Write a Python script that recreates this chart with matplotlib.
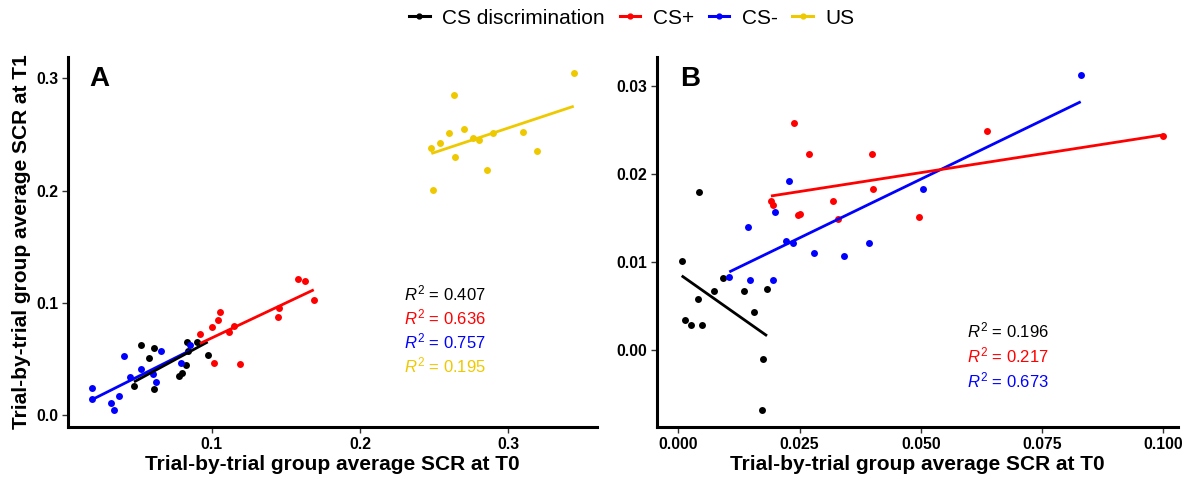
import numpy as np
import matplotlib
matplotlib.use("Agg")
import matplotlib.pyplot as plt
from matplotlib.lines import Line2D

plt.rcParams['font.family'] = ['Liberation Sans', 'DejaVu Sans']
plt.rcParams['mathtext.fontset'] = 'custom'
plt.rcParams['mathtext.rm'] = 'Liberation Sans'
plt.rcParams['mathtext.it'] = 'Liberation Sans:italic'

# ---------------- Data: panel A ----------------
a_disc_x = [0.0525, 0.0608, 0.0574, 0.0831, 0.0903, 0.0842, 0.0973, 0.0825, 0.0803, 0.0781, 0.0476, 0.0614]
a_disc_y = [0.0623, 0.0603, 0.0510, 0.0654, 0.0648, 0.0574, 0.0534, 0.0450, 0.0374, 0.0347, 0.0261, 0.0234]
# fitted line of CS discrimination (some points are hidden)
a_disc_fit_x = [0.0476, 0.0973]
a_disc_fit_y = [0.0297, 0.0653]
a_plus_x = [0.0921, 0.1004, 0.1042, 0.1058, 0.1118, 0.1150, 0.1013, 0.1189, 0.1449, 0.1456, 0.1582, 0.1631, 0.1688]
a_plus_y = [0.0721, 0.0786, 0.0849, 0.0920, 0.0739, 0.0799, 0.0461, 0.0456, 0.0873, 0.0959, 0.1217, 0.1199, 0.1024]
a_minus_x = [0.0191, 0.0195, 0.0318, 0.0339, 0.0373, 0.0409, 0.0447, 0.0521, 0.0601, 0.0624, 0.0660, 0.0796, 0.0855]
a_minus_y = [0.0243, 0.0149, 0.0109, 0.0049, 0.0175, 0.0528, 0.0341, 0.0412, 0.0372, 0.0297, 0.0570, 0.0469, 0.0626]
a_us_x = [0.3441, 0.2634, 0.2703, 0.2598, 0.2539, 0.2481, 0.2764, 0.2802, 0.2899, 0.3101, 0.2641, 0.3194, 0.2854, 0.2492]
a_us_y = [0.3043, 0.2852, 0.2547, 0.2511, 0.2425, 0.2380, 0.2467, 0.2446, 0.2514, 0.2520, 0.2297, 0.2348, 0.2184, 0.2006]
a_r2 = ["0.407", "0.636", "0.757", "0.195"]

# ---------------- Data: panel B ----------------
b_disc_x = [0.00428, 0.00072, 0.00916, 0.00731, 0.00408, 0.00140, 0.00264, 0.00497, 0.01350, 0.01830, 0.01562, 0.01741, 0.01721]
b_disc_y = [0.01796, 0.01011, 0.00819, 0.00672, 0.00583, 0.00340, 0.00287, 0.00287, 0.00672, 0.00691, 0.00434, -0.00099, -0.00687]
b_plus_x = [0.02378, 0.02694, 0.03985, 0.06374, 0.09998, 0.04005, 0.01911, 0.01958, 0.03194, 0.02461, 0.02502, 0.03285, 0.04953]
b_plus_y = [0.02582, 0.02231, 0.02223, 0.02492, 0.02430, 0.01830, 0.01691, 0.01646, 0.01691, 0.01532, 0.01547, 0.01484, 0.01510]
b_minus_x = [0.01053, 0.01473, 0.01960, 0.01438, 0.01995, 0.02283, 0.02215, 0.02376, 0.02798, 0.03410, 0.03925, 0.05041, 0.08295]
b_minus_y = [0.00830, 0.00796, 0.00796, 0.01396, 0.01566, 0.01925, 0.01238, 0.01212, 0.01105, 0.01071, 0.01212, 0.01827, 0.03126]
b_r2 = ["0.196", "0.217", "0.673"]

labels = ["CS discrimination", "CS+", "CS-", "US"]
colors = ["#000000", "#FF0000", "#0000FF", "#EEC900"]

a_ticks_x = [0.1, 0.2, 0.3]
a_ticks_y = [0.0, 0.1, 0.2, 0.3]
b_ticks_x = [0.000, 0.025, 0.050, 0.075, 0.100]
b_ticks_y = [0.00, 0.01, 0.02, 0.03]
a_xlim, a_ylim = (0.0031, 0.3598), (-0.0104, 0.3188)
b_xlim, b_ylim = (-0.00437, 0.1030), (-0.00875, 0.0333)

xlabel = "Trial-by-trial group average SCR at T0"
ylabel = "Trial-by-trial group average SCR at T1"

# line stacking order: CS- below CS discrimination below CS+ / US
line_z = {"#0000FF": 3, "#000000": 4, "#FF0000": 5, "#EEC900": 5}

fig = plt.figure(figsize=(12, 4.79), dpi=100)
axA = fig.add_axes([68/1200, 1-427/479, (597-68)/1200, (427-57)/479])
axB = fig.add_axes([657/1200, 1-427/479, (1178-657)/1200, (427-57)/479])


def draw(ax, series):
    for x, y, c, fit in series:
        x = np.asarray(x); y = np.asarray(y)
        ax.scatter(x, y, s=25, color=c, zorder=2, linewidths=0)
        if fit is None:
            k, b = np.polyfit(x, y, 1)
            xs = np.array([x.min(), x.max()])
            ys = k*xs + b
        else:
            xs, ys = fit
        ax.plot(xs, ys, color=c, lw=2.0, zorder=line_z[c], solid_capstyle='butt')
    for s in ['top', 'right']:
        ax.spines[s].set_visible(False)
    for s in ['left', 'bottom']:
        ax.spines[s].set_linewidth(2.2)
    ax.tick_params(axis='both', length=4, width=1, color='#333333', labelsize=11.3, pad=3)
    ax.set_xlabel(xlabel, fontsize=15, fontweight='bold', labelpad=2)


draw(axA, [(a_disc_x, a_disc_y, colors[0], (a_disc_fit_x, a_disc_fit_y)),
           (a_plus_x, a_plus_y, colors[1], None),
           (a_minus_x, a_minus_y, colors[2], None),
           (a_us_x, a_us_y, colors[3], None)])
axA.set_xlim(*a_xlim); axA.set_ylim(*a_ylim)
axA.set_xticks(a_ticks_x)
axA.set_xticklabels([f"{t:.1f}" for t in a_ticks_x], fontweight='bold')
axA.set_yticks(a_ticks_y)
axA.set_yticklabels([f"{t:.1f}" for t in a_ticks_y], fontweight='bold')
axA.set_ylabel(ylabel, fontsize=15, fontweight='bold', labelpad=4)
axA.text(0.04, 0.94, "A", transform=axA.transAxes, fontsize=20, fontweight='bold', va='center', ha='left')
for i, (r, c) in enumerate(zip(a_r2, colors)):
    axA.text(0.2297, 0.1083 - i*0.02145, r"$R^2$" + f" = {r}", color=c, fontsize=12, va='center', ha='left')

draw(axB, [(b_disc_x, b_disc_y, colors[0], None),
           (b_plus_x, b_plus_y, colors[1], None),
           (b_minus_x, b_minus_y, colors[2], None)])
axB.set_xlim(*b_xlim); axB.set_ylim(*b_ylim)
axB.set_xticks(b_ticks_x)
axB.set_xticklabels([f"{t:.3f}" for t in b_ticks_x], fontweight='bold')
axB.set_yticks(b_ticks_y)
axB.set_yticklabels([f"{t:.2f}" for t in b_ticks_y], fontweight='bold')
axB.text(0.045, 0.94, "B", transform=axB.transAxes, fontsize=20, fontweight='bold', va='center', ha='left')
for i, (r, c) in enumerate(zip(b_r2, colors[:3])):
    axB.text(0.0595, 0.00219 - i*0.00283, r"$R^2$" + f" = {r}", color=c, fontsize=12, va='center', ha='left')

handles = [Line2D([0], [0], color=c, lw=2.2, marker='o', markersize=3.5) for c in colors]
fig.legend(handles, labels, loc='center', bbox_to_anchor=(632/1200, 1-18/479), ncol=4,
           frameon=False, fontsize=15, handlelength=1.0, handletextpad=0.6, columnspacing=0.7,
           borderaxespad=0, borderpad=0)

fig.savefig("out.png", dpi=100)
